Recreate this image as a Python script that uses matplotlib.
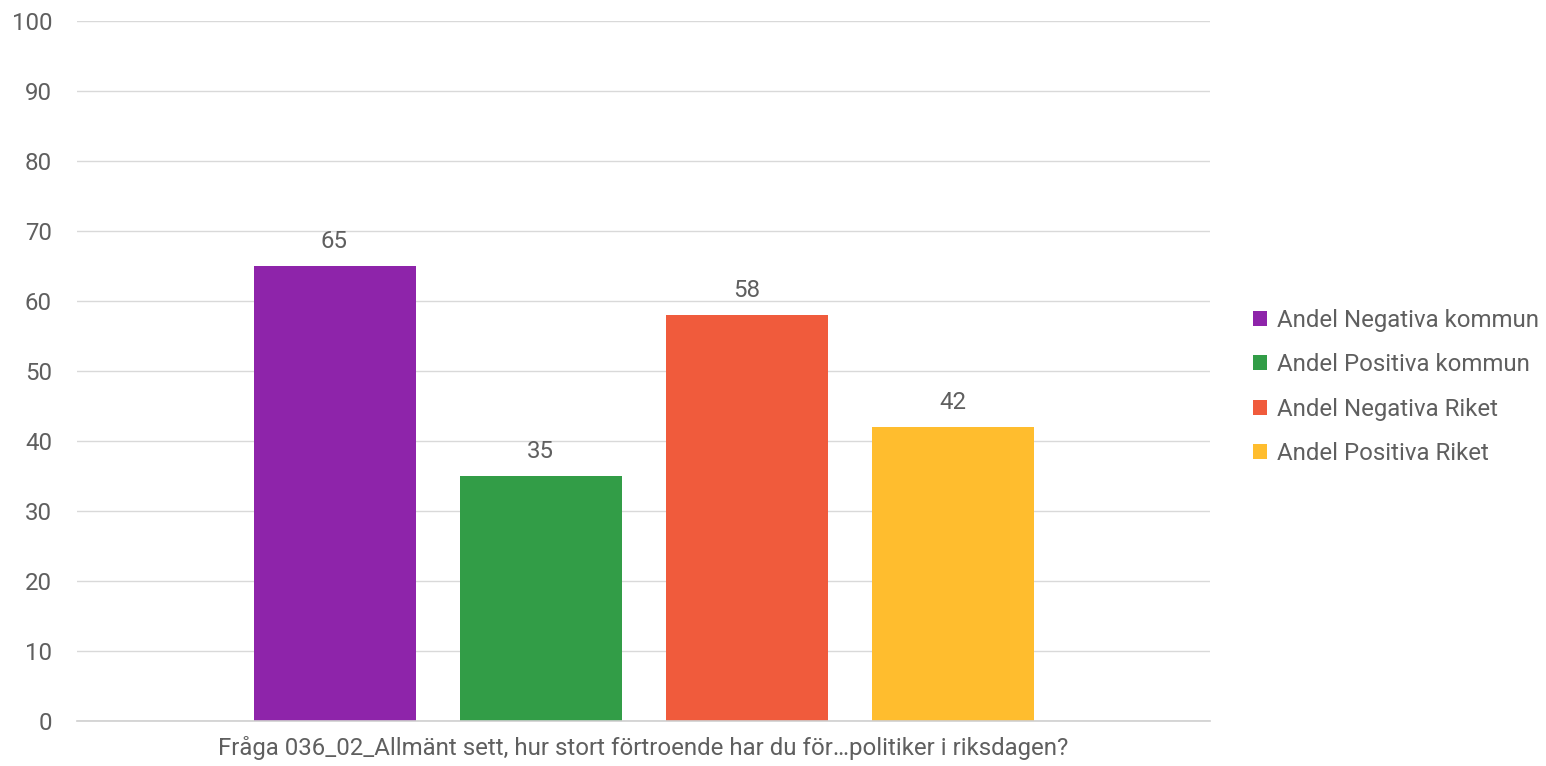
import matplotlib
matplotlib.use("Agg")
import matplotlib.pyplot as plt
from matplotlib.patches import Patch

categories = ["Fråga 036_02_Allmänt sett, hur stort förtroende har du för…politiker i riksdagen?"]
series = ["Andel Negativa kommun", "Andel Positiva kommun", "Andel Negativa Riket", "Andel Positiva Riket"]
values = [65, 35, 58, 42]
colors = ["#8E24AA", "#329D47", "#F05B3C", "#FFBD2E"]
yticks = [0, 10, 20, 30, 40, 50, 60, 70, 80, 90, 100]

plt.rcParams['font.family'] = ['Roboto', 'DejaVu Sans']
txt = "#5f5f5f"
fs = 17.3

fig = plt.figure(figsize=(15.46, 7.66), dpi=100)
W, H = 1546, 766
ax = fig.add_axes([77 / W, 1 - 721 / H, (1210 - 77) / W, (721 - 21) / H])

bw = 162 / 1133
step = 206 / 1133
offsets = [(i - 1.5) * step for i in range(len(series))]
for off, v, c, s in zip(offsets, values, colors, series):
    ax.bar(off, v, width=bw, color=c, label=s, zorder=3)
    ax.annotate(f"{v}", (off, v), xytext=(0, 17.5), textcoords="offset points",
                ha="center", va="center", fontsize=fs, color=txt)

ax.set_xlim(-0.5, 0.5)
ax.set_ylim(0, 100)
ax.set_yticks(yticks)
ax.set_yticklabels([str(t) for t in yticks])
ax.set_xticks([0])
ax.set_xticklabels(categories)
ax.tick_params(axis='y', length=0, pad=18, labelsize=fs, labelcolor=txt)
ax.tick_params(axis='x', length=0, pad=11, labelsize=fs, labelcolor=txt)
ax.grid(axis='y', color="#d9d9d9", linewidth=1, zorder=0)
for sp in ["top", "right", "left"]:
    ax.spines[sp].set_visible(False)
ax.spines["bottom"].set_color("#cfcfcf")
ax.spines["bottom"].set_linewidth(1.2)
ax.spines["bottom"].set_zorder(4)

handles = [Patch(facecolor=c, edgecolor='none') for c in colors]
leg = fig.legend(handles, series, loc="center left", bbox_to_anchor=(1234 / W, 1 - 387 / H),
                 frameon=False, fontsize=fs, labelcolor=txt, handlelength=0.58, handleheight=0.58,
                 handletextpad=0.4, labelspacing=0.9, borderpad=0.3)

fig.savefig("out.png", dpi=100)
